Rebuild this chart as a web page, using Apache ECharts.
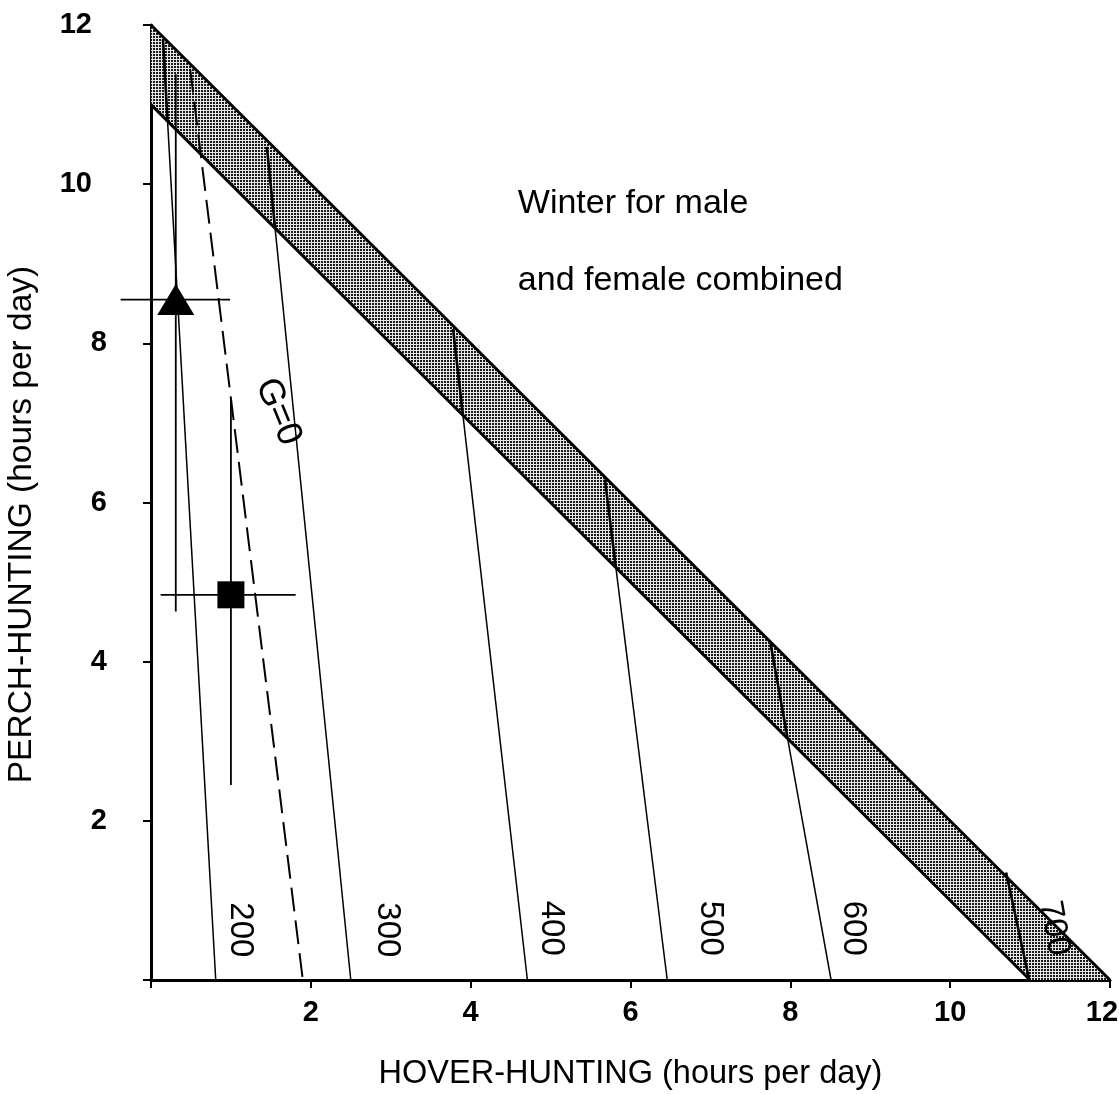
<!DOCTYPE html>
<html><head><meta charset="utf-8">
<script src="https://cdn.jsdelivr.net/npm/echarts/dist/echarts.min.js"></script>
<style>html,body{margin:0;padding:0;background:#fff}#c{width:1119px;height:1094px}</style>
</head><body><div id="c"></div>
<script>
// ---- data (hours per day) ----
const xTickValues = [0, 2, 4, 6, 8, 10, 12];
const yTickValues = [0, 2, 4, 6, 8, 10, 12];
// shaded band between x+y=12 and x+y=11
const bandUpper = [[0, 12], [12, 0]];
const bandLower = [[0, 11], [11, 0]];
// iso-lines: top point on band edge, bottom point on x-axis
const isoLabels  = ['200', '300', '400', '500', '600', '700'];
const isoTopX    = [0.15, 1.45, 3.78, 5.68, 7.75, 10.70];
const isoTopY    = [11.82, 10.47, 8.18, 6.29, 4.24, 1.35];
const isoBottomX = [0.81, 2.50, 4.71, 6.46, 8.51, 10.99];
const isoLabelX  = [1.11, 2.95, 5.01, 6.99, 8.78, 11.30];
const isoLabelY  = [0.63, 0.63, 0.65, 0.65, 0.65, 0.65];
// G = 0 dashed line
const gZeroLine = [[0.49, 11.45], [1.90, 0]];
const gZeroLabel = { x: 1.59, y: 7.14, text: 'G=0' };
// observed means with ranges
const obsNames = ['triangle', 'square'];
const obsX     = [0.31, 1.00];
const obsY     = [8.55, 4.84];
const obsXLow  = [-0.38, 0.12];
const obsXHigh = [0.99, 1.81];
const obsYLow  = [4.63, 2.45];
const obsYHigh = [11.38, 7.30];
// notes
const noteTexts = ['Winter for male', 'and female combined'];
const noteX = [4.59, 4.59];
const noteY = [9.76, 8.79];

// ---- styles ----
const FONT = '"Liberation Sans", Arial, Helvetica, sans-serif';
const isoLabelRot = [-90, -90, -90, -90, -90, -80];

function makePattern() {
  const c = document.createElement('canvas');
  c.width = 3; c.height = 3;
  const g = c.getContext('2d');
  g.fillStyle = '#e6e6e6'; g.fillRect(0, 0, 3, 3);
  g.fillStyle = '#1a1a1a'; g.fillRect(0, 0, 2, 2);
  return c;
}
const pattern = { image: makePattern(), repeat: 'repeat' };

const chart = echarts.init(document.getElementById('c'), null, { renderer: 'canvas' });

const axisCommon = {
  type: 'value', min: 0, max: 12, interval: 2,
  splitLine: { show: false },
  axisLine: { show: true, onZero: false, lineStyle: { color: '#000', width: 3 } },
  axisTick: { show: true, inside: false, length: 8, lineStyle: { color: '#000', width: 2 } },
  nameLocation: 'middle',
};
const labelRich = {
  last: { fontSize: 29, fontWeight: 'bold', color: '#000', fontFamily: FONT, padding: [0, 16, 0, 0] },
  wide: { fontSize: 29, fontWeight: 'bold', color: '#000', fontFamily: FONT, padding: [0, 15, 0, 0] }
};

const option = {
  animation: false,
  backgroundColor: '#fff',
  grid: { left: 151, right: 9, top: 25, bottom: 114, containLabel: false, outerBoundsMode: 'none' },
  xAxis: Object.assign({}, axisCommon, {
    name: 'HOVER-HUNTING (hours per day)',
    nameGap: 78,
    nameTextStyle: { fontSize: 32.5, color: '#000', fontFamily: FONT },
    axisLabel: {
      fontSize: 29, fontWeight: 'bold', color: '#000', fontFamily: FONT, margin: 18,
      formatter: v => {
        const i = xTickValues.indexOf(v);
        if (i <= 0) return '';
        return i === xTickValues.length - 1 ? '{last|' + v + '}' : String(v);
      },
      rich: labelRich
    }
  }),
  yAxis: Object.assign({}, axisCommon, {
    name: 'PERCH-HUNTING (hours per day)',
    nameGap: 112, nameRotate: 90,
    nameTextStyle: { fontSize: 33.5, color: '#000', fontFamily: FONT, padding: [0, 44, 0, 0] },
    axisLabel: {
      fontSize: 29, fontWeight: 'bold', color: '#000', fontFamily: FONT, margin: 44,
      formatter: v => {
        const i = yTickValues.indexOf(v);
        if (i <= 0) return '';
        return v >= 10 ? '{wide|' + v + '}' : String(v);
      },
      rich: labelRich
    }
  }),
  series: [
    { // band
      type: 'custom', z: 1, silent: true,
      data: [[bandUpper[0][0], bandUpper[0][1]]],
      renderItem: function (params, api) {
        const u0 = api.coord(bandUpper[0]), u1 = api.coord(bandUpper[1]);
        const l0 = api.coord(bandLower[0]), l1 = api.coord(bandLower[1]);
        return { type: 'group', children: [
          { type: 'polygon', shape: { points: [u0, u1, l1, l0] }, style: { fill: pattern, stroke: null } },
          { type: 'line', shape: { x1: u0[0], y1: u0[1], x2: u1[0], y2: u1[1] }, style: { stroke: '#000', lineWidth: 3 } },
          { type: 'line', shape: { x1: l0[0], y1: l0[1], x2: l1[0], y2: l1[1] }, style: { stroke: '#000', lineWidth: 3 } }
        ]};
      }
    },
    { // iso lines
      type: 'custom', z: 2, silent: true,
      data: isoLabels.map((l, i) => [isoTopX[i], isoTopY[i], isoBottomX[i], 0]),
      renderItem: function (params, api) {
        const x1 = api.value(0), y1 = api.value(1), x2 = api.value(2), y2 = api.value(3);
        const t = (11 - x1 - y1) / ((x2 - x1) + (y2 - y1));
        const pTop = api.coord([x1, y1]);
        const pMid = api.coord([x1 + t * (x2 - x1), y1 + t * (y2 - y1)]);
        const pBot = api.coord([x2, y2]);
        return { type: 'group', children: [
          { type: 'line', shape: { x1: pTop[0], y1: pTop[1], x2: pMid[0], y2: pMid[1] }, style: { stroke: '#000', lineWidth: 2.6 } },
          { type: 'line', shape: { x1: pMid[0], y1: pMid[1], x2: pBot[0], y2: pBot[1] }, style: { stroke: '#000', lineWidth: 1.5 } }
        ]};
      }
    },
    { // iso labels
      type: 'custom', z: 3, silent: true,
      data: isoLabels.map((l, i) => [isoLabelX[i], isoLabelY[i]]),
      renderItem: function (params, api) {
        const p = api.coord([api.value(0), api.value(1)]);
        return { type: 'text', x: p[0], y: p[1], rotation: isoLabelRot[params.dataIndex] * Math.PI / 180,
          style: { text: isoLabels[params.dataIndex], fontSize: 33, fontFamily: FONT, fill: '#000', align: 'center', verticalAlign: 'middle' } };
      }
    },
    { // G = 0 dashed
      type: 'line', z: 2, silent: true, symbol: 'none',
      data: gZeroLine,
      lineStyle: { color: '#000', width: 2, type: [24, 9] }
    },
    { // G = 0 label
      type: 'custom', z: 3, silent: true,
      data: [[gZeroLabel.x, gZeroLabel.y]],
      renderItem: function (params, api) {
        const p = api.coord([api.value(0), api.value(1)]);
        return { type: 'text', x: p[0], y: p[1], rotation: -67.5 * Math.PI / 180,
          style: { text: gZeroLabel.text, fontSize: 36, fontFamily: FONT, fill: '#000', align: 'center', verticalAlign: 'middle' } };
      }
    },
    { // error bars
      type: 'custom', z: 4, silent: true, clip: false,
      data: obsNames.map((n, i) => [obsX[i], obsY[i], obsXLow[i], obsXHigh[i], obsYLow[i], obsYHigh[i]]),
      renderItem: function (params, api) {
        const x = api.value(0), y = api.value(1);
        const h1 = api.coord([api.value(2), y]), h2 = api.coord([api.value(3), y]);
        const v1 = api.coord([x, api.value(4)]), v2 = api.coord([x, api.value(5)]);
        return { type: 'group', children: [
          { type: 'line', shape: { x1: h1[0], y1: h1[1], x2: h2[0], y2: h2[1] }, style: { stroke: '#000', lineWidth: 1.8 } },
          { type: 'line', shape: { x1: v1[0], y1: v1[1], x2: v2[0], y2: v2[1] }, style: { stroke: '#000', lineWidth: 1.8 } }
        ]};
      }
    },
    { // triangle mean
      type: 'scatter', z: 5, silent: true, symbol: 'triangle', symbolSize: [37, 31],
      data: [[obsX[0], obsY[0]]], itemStyle: { color: '#000', opacity: 1 }
    },
    { // square mean
      type: 'scatter', z: 5, silent: true, symbol: 'rect', symbolSize: 27,
      data: [[obsX[1], obsY[1]]], itemStyle: { color: '#000', opacity: 1 }
    },
    { // notes
      type: 'custom', z: 3, silent: true,
      data: noteTexts.map((t, i) => [noteX[i], noteY[i]]),
      renderItem: function (params, api) {
        const p = api.coord([api.value(0), api.value(1)]);
        return { type: 'text', x: p[0], y: p[1],
          style: { text: noteTexts[params.dataIndex], fontSize: 34, fontFamily: FONT, fill: '#000', align: 'left', verticalAlign: 'middle' } };
      }
    }
  ]
};
chart.setOption(option);
</script>
</body></html>
